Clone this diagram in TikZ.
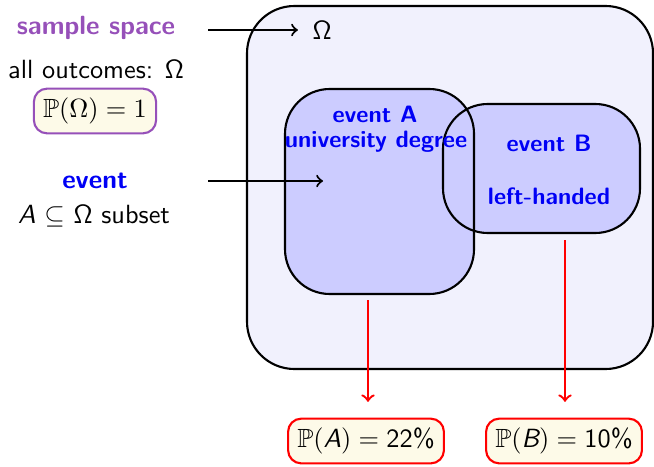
\documentclass[tikz,border=0pt]{standalone}
\usepackage{amssymb}
\usepackage{tikz}
\usetikzlibrary{arrows}

\definecolor{spacepurple}{RGB}{150,80,185}
\definecolor{evblue}{RGB}{0,0,245}
\definecolor{probcream}{RGB}{253,250,232}
\definecolor{omegafill}{RGB}{241,241,253}
\definecolor{eventfill}{RGB}{204,204,255}

\tikzset{
  every node/.style={font=\sffamily},
  spacebox/.style={draw,line width=0.8pt,fill=omegafill,rounded corners=18pt},
  eventfillbox/.style={fill=eventfill,rounded corners=17pt},
  eventline/.style={draw,line width=0.8pt,rounded corners=17pt},
  probbox/.style={draw,line width=0.8pt,fill=probcream,rounded corners=5pt,inner sep=3.5pt},
  evlabel/.style={text=evblue,font=\sffamily\bfseries\small},
  redarrow/.style={->,red,line width=0.9pt},
}

\begin{document}
\begin{tikzpicture}[x=0.38pt,y=-0.38pt]
\useasboundingbox (0,0) rectangle (654,466);

% sample space and the two events
\draw [spacebox] (247,6) rectangle (653,369);
\fill [eventfillbox] (285,89) rectangle (474,294);
\fill [eventfillbox] (443,104) rectangle (640,233);
\draw [eventline] (285,89) rectangle (474,294);
\draw [eventline] (443,104) rectangle (640,233);

\node (omegalbl) at (322,30) {$\mathsf{\Omega}$};
\node [evlabel] (evAname) at (375,114) {event A};
\node [evlabel] (evAtext) at (376,142) {university degree};
\node [evlabel] (evBname) at (549,143) {event B};
\node [evlabel] (evBtext) at (549,196) {left-handed};

% left column
\node [text=spacepurple,font=\sffamily\bfseries] (ssname) at (96,28) {sample space};
\node (sstext) at (96,70) {all outcomes: $\mathsf{\Omega}$};
\node [probbox,draw=spacepurple] (ssprob) at (95,111) {$\mathbb{P}(\Omega)=1$};
\node [text=evblue,font=\sffamily\bfseries] (evname) at (95,181) {event};
\node (evtext) at (94,216) {\textit{A} $\subseteq$ $\mathsf{\Omega}$ subset};

\coordinate (ssstart) at (208,30);
\coordinate (evstart) at (208,181);
\coordinate (evend) at (323,181);
\draw [->,line width=0.8pt,shorten >=2pt] (ssstart) -- (omegalbl);
\draw [->,line width=0.8pt] (evstart) -- (evend);

% probabilities
\node [probbox,draw=red] (probA) at (366,441) {$\mathbb{P}(\textsf{\itshape A})=\textsf{22\%}$};
\node [probbox,draw=red] (probB) at (564,441) {$\mathbb{P}(\textsf{\itshape B})=\textsf{10\%}$};

\coordinate (Abottom) at (368,300);
\coordinate (Bbottom) at (565,240);
\draw [redarrow] (Abottom) -- ([yshift=6pt]probA.north -| Abottom);
\draw [redarrow] (Bbottom) -- ([yshift=6pt]probB.north -| Bbottom);
\end{tikzpicture}
\end{document}
